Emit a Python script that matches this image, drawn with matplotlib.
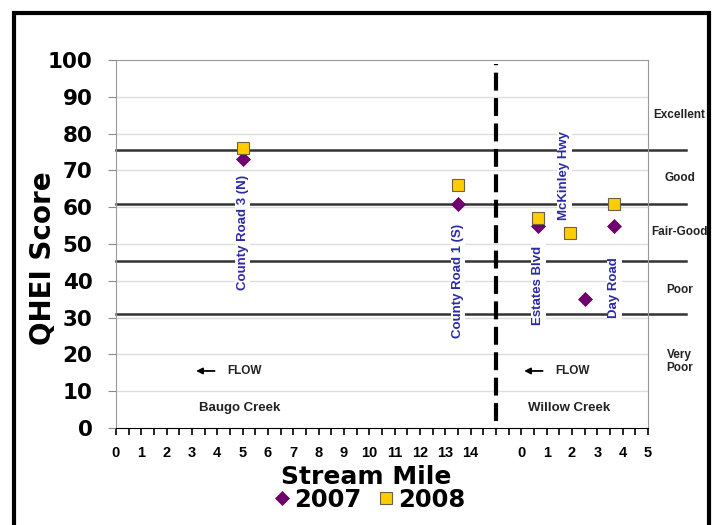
import matplotlib.pyplot as plt
from matplotlib.patches import Rectangle

# === DATA ===
sites = ['County Road 3 (N)', 'County Road 1 (S)', 'Estates Blvd', 'McKinley Hwy', 'Day Road']
creek = ['Baugo', 'Baugo', 'Willow', 'Willow', 'Willow']
mile_2007 = [5, 13.5, 0.67, 2.5, 3.67]
qhei_2007 = [73, 61, 55, 35, 55]
mile_2008 = [5, 13.5, 0.67, 1.93, 3.67]
qhei_2008 = [76, 66, 57, 53, 61]
label_mile = [5, 13.5, 0.67, 1.7, 3.67]
label_y = [37.5, 24.5, 28, 56.5, 29.8]

thresholds = [75.5, 61, 45.5, 31]
ratings = ['Excellent', 'Good', 'Fair-Good', 'Poor', 'Very\nPoor']
rating_y = [85, 68, 53.3, 37.4, 18]

baugo_ticks = list(range(0, 15))
willow_ticks = list(range(0, 6))
willow_offset = 16  # Willow Creek mile 0 sits after Baugo mile 15 on the shared axis


def to_x(m, c):
    return m + willow_offset if c == 'Willow' else m


# === FIGURE ===
fig = plt.figure(figsize=(7.13, 5.25), dpi=100)
ax = fig.add_axes([116 / 713, 1 - 428 / 525, (648 - 116) / 713, (428 - 60) / 525])
ax.set_xlim(0, 21)
ax.set_ylim(0, 100)

# grid
for v in range(10, 100, 10):
    ax.axhline(v, color='#dddddd', lw=1, zorder=0)

# rating thresholds (extend past the plot box)
for t in thresholds:
    ax.plot([0, 22.5], [t, t], color='#333333', lw=1.8, clip_on=False, zorder=1)

# creek divider
ax.plot([15, 15], [2, 99], color='black', lw=3, linestyle=(0, (4.3, 1.8)), zorder=3)

# points
x07 = [to_x(m, c) for m, c in zip(mile_2007, creek)]
x08 = [to_x(m, c) for m, c in zip(mile_2008, creek)]
ax.plot(x07, qhei_2007, 'D', color='#700070', markersize=7.5, markeredgecolor='#5a005a',
        markeredgewidth=0.5, linestyle='none', label='2007', zorder=4)
ax.plot(x08, qhei_2008, 's', color='#ffcc00', markersize=9, markeredgecolor='#6b6040',
        markeredgewidth=0.8, linestyle='none', label='2008', zorder=5)

# site labels
for s, m, c, y in zip(sites, label_mile, creek, label_y):
    ax.text(to_x(m, c), y, s, rotation=90, ha='center', va='bottom', color='#2a2aa8',
            fontsize=9.5, fontweight='bold', family='Liberation Sans',
            bbox=dict(facecolor='white', edgecolor='none', pad=1), zorder=2)

# rating names on the right
for r, y in zip(ratings, rating_y):
    ax.text(22.25, y, r, ha='center', va='center', fontsize=8.5, fontweight='bold',
            family='Liberation Sans', color='#222222', clip_on=False, linespacing=1.15)

# flow arrows and creek names
for x0, x1, xt in [(4.0, 3.05, 4.4), (16.95, 16.0, 17.35)]:
    ax.annotate('', xy=(x1, 15.5), xytext=(x0, 15.5),
                arrowprops=dict(arrowstyle='-|>', color='black', lw=1.3, mutation_scale=9))
    ax.text(xt, 15.5, 'FLOW', ha='left', va='center', fontsize=8.5, fontweight='bold',
            family='Liberation Sans', color='#222222')
ax.text(4.9, 5.3, 'Baugo Creek', ha='center', va='center', fontsize=9.5, fontweight='bold',
        family='Liberation Sans', color='#222222')
ax.text(17.9, 5.3, 'Willow Creek', ha='center', va='center', fontsize=9.5, fontweight='bold',
        family='Liberation Sans', color='#222222')

# axes styling
for side in ['top', 'right', 'left']:
    ax.spines[side].set_color('#999999')
ax.spines['bottom'].set_color('black')

ax.set_yticks(range(0, 101, 10))
ax.tick_params(axis='y', colors='#888888', length=6, pad=11, labelcolor='black', labelsize=15.5)
for lab in ax.get_yticklabels():
    lab.set_fontweight('bold')
    lab.set_family('DejaVu Sans')

xt_pos = baugo_ticks + [15] + [w + willow_offset for w in willow_ticks]
xt_lab = [str(b) for b in baugo_ticks] + [''] + [str(w) for w in willow_ticks]
ax.set_xticks(xt_pos)
ax.set_xticklabels(xt_lab, fontsize=10.5, fontweight='bold', family='Liberation Sans')
ax.set_xticks([i + 0.5 for i in range(21)], minor=True)
ax.tick_params(axis='x', which='both', length=5, width=1.2, color='black', pad=8)

fig.text(43 / 713, 1 - 258 / 525, 'QHEI Score', rotation=90, ha='center', va='center',
         fontsize=20, fontweight='bold', family='DejaVu Sans')
fig.text(366 / 713, 1 - 477 / 525, 'Stream Mile', ha='center', va='center',
         fontsize=18, fontweight='bold', family='DejaVu Sans')

fig.legend(loc='center', bbox_to_anchor=(369 / 713, 1 - 500 / 525), ncol=2, frameon=False,
           handletextpad=0.1, columnspacing=0.6, handlelength=0.8,
           prop=dict(family='DejaVu Sans', weight='bold', size=17.5))

# outer frame
fig.patches.append(Rectangle((14 / 713, -0.1), (709 - 14) / 713, 1.1 - 13 / 525,
                             transform=fig.transFigure, fill=False, edgecolor='black', lw=3))

fig.savefig('out.png', dpi=100)
